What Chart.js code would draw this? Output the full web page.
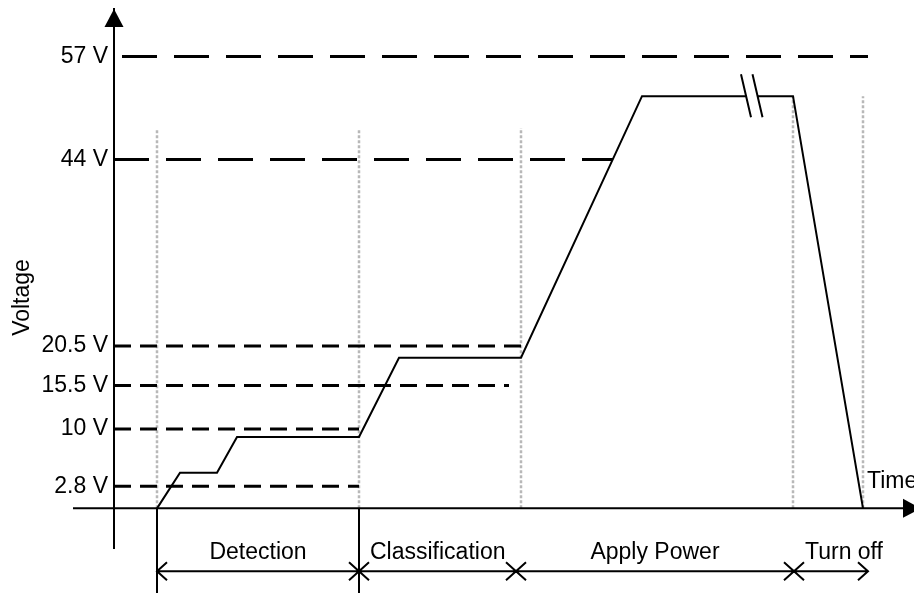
<!DOCTYPE html>
<html>
<head>
<meta charset="utf-8">
<script src="https://cdn.jsdelivr.net/npm/chart.js@4.4.0/dist/chart.umd.min.js"></script>
<style>
  html, body { margin: 0; padding: 0; background: #fff; }
  #wrap { width: 914px; height: 593px; }
</style>
</head>
<body>
<div id="wrap"><canvas id="canvas" width="914" height="593"></canvas></div>
<script>
// time in arbitrary units, voltage in V
const signalTimes = [43, 66, 103, 123, 245, 285, 407, 528, 679, 749];
const signalVolts = [0, 4.5, 4.5, 9, 9, 19, 19, 52, 52, 0];

// threshold levels (also the y tick labels)
const tickValues = [2.8, 10, 15.5, 20.5, 44, 57];
const thresholdStart = [0, 0, 0, 0, 0, 8];
const thresholdEnd = [245, 245, 395, 416, 499, 754];

// grey dotted guides
const guideTimes = [43, 245, 407, 679, 749];
const guideTops = [47.7, 47.7, 48, 52, 52];

const phaseNames = ['Detection', 'Classification', 'Apply Power', 'Turn off'];
const phaseEdges = [43, 245, 402, 680, 754];

const breakAt = 638;

document.addEventListener('DOMContentLoaded', () => {
  Chart.defaults.font.family = '"Liberation Sans", Arial, sans-serif';
  Chart.defaults.font.size = 23;
  Chart.defaults.color = '#000';

  const datasets = [];

  datasets.push({
    data: signalTimes.map((t, i) => ({ x: t, y: signalVolts[i] })),
    borderColor: '#000',
    borderWidth: 2,
    pointRadius: 0,
    order: 1,
  });

  tickValues.forEach((v, i) => {
    datasets.push({
      data: [{ x: thresholdStart[i], y: v }, { x: thresholdEnd[i], y: v }],
      borderColor: '#000',
      borderWidth: 3,
      borderDash: v > 40 ? [35, 17] : [17, 9],
      pointRadius: 0,
      order: 2,
    });
  });

  guideTimes.forEach((t, i) => {
    datasets.push({
      data: [{ x: t, y: 0 }, { x: t, y: guideTops[i] }],
      borderColor: '#b8b8b8',
      borderWidth: 2.5,
      borderDash: [3, 2],
      pointRadius: 0,
      order: 3,
    });
  });

  // axes arrows, phase arrows and labels
  const sketch = {
    id: 'sketch',
    afterDraw(chart) {
      const { ctx, chartArea } = chart;
      const xs = chart.scales.x;
      const ys = chart.scales.y;
      const x0 = chartArea.left;
      const y0 = ys.getPixelForValue(0);
      ctx.save();
      ctx.strokeStyle = '#000';
      ctx.fillStyle = '#000';
      ctx.lineWidth = 2;

      // time axis
      ctx.beginPath();
      ctx.moveTo(x0 - 41, y0);
      ctx.lineTo(chartArea.right - 10, y0);
      ctx.stroke();
      ctx.beginPath();
      ctx.moveTo(chartArea.right + 7, y0);
      ctx.lineTo(chartArea.right - 11, y0 - 9.5);
      ctx.lineTo(chartArea.right - 11, y0 + 9.5);
      ctx.closePath();
      ctx.fill();

      // voltage axis arrow
      ctx.beginPath();
      ctx.moveTo(x0, chartArea.top);
      ctx.lineTo(x0 - 9.5, chartArea.top + 18);
      ctx.lineTo(x0 + 9.5, chartArea.top + 18);
      ctx.closePath();
      ctx.fill();

      // break mark on the plateau
      const bx = xs.getPixelForValue(breakAt);
      const by = ys.getPixelForValue(52);
      ctx.fillStyle = '#fff';
      ctx.fillRect(bx - 5, by - 2, 10, 4);
      ctx.fillStyle = '#000';
      ctx.beginPath();
      ctx.moveTo(bx - 11, by - 22);
      ctx.lineTo(bx - 1, by + 21);
      ctx.moveTo(bx + 0.5, by - 22);
      ctx.lineTo(bx + 10.5, by + 21);
      ctx.stroke();

      // phase edges below the axis
      [0, 1].forEach((i) => {
        const px = xs.getPixelForValue(phaseEdges[i]);
        ctx.beginPath();
        ctx.moveTo(px, y0);
        ctx.lineTo(px, chart.height);
        ctx.stroke();
      });

      const ay = y0 + 63;
      const first = xs.getPixelForValue(phaseEdges[0]);
      const last = xs.getPixelForValue(phaseEdges[phaseEdges.length - 1]);
      ctx.beginPath();
      ctx.moveTo(first, ay);
      ctx.lineTo(last, ay);
      ctx.moveTo(first + 10, ay - 9);
      ctx.lineTo(first, ay);
      ctx.lineTo(first + 10, ay + 9);
      ctx.moveTo(last - 10, ay - 9);
      ctx.lineTo(last, ay);
      ctx.lineTo(last - 10, ay + 9);
      phaseEdges.slice(1, -1).forEach((t) => {
        const px = xs.getPixelForValue(t);
        ctx.moveTo(px - 10, ay - 9);
        ctx.lineTo(px + 10, ay + 9);
        ctx.moveTo(px - 10, ay + 9);
        ctx.lineTo(px + 10, ay - 9);
      });
      ctx.stroke();

      ctx.font = '23px "Liberation Sans", Arial, sans-serif';
      ctx.textAlign = 'center';
      ctx.textBaseline = 'alphabetic';
      phaseNames.forEach((name, i) => {
        const a = xs.getPixelForValue(phaseEdges[i]);
        const b = xs.getPixelForValue(phaseEdges[i + 1]);
        const w = ctx.measureText(name).width;
        const cx = Math.max((a + b) / 2, a + 11 + w / 2);
        ctx.fillText(name, cx, y0 + 51);
      });

      ctx.textAlign = 'left';
      ctx.fillText('Time', xs.getPixelForValue(guideTimes[guideTimes.length - 1]) + 4, y0 - 20);

      ctx.save();
      ctx.translate(23, (chartArea.top + chartArea.bottom) / 2 + 19);
      ctx.rotate(-Math.PI / 2);
      ctx.textAlign = 'center';
      ctx.textBaseline = 'middle';
      ctx.fillText('Voltage', 0, 0);
      ctx.restore();

      ctx.restore();
    },
  };

  const config = {
    type: 'line',
    data: { datasets: datasets },
    options: {
      responsive: false,
      animation: false,
      layout: { padding: { left: 10, top: 9, right: 0, bottom: 45 } },
      plugins: { legend: { display: false }, tooltip: { enabled: false } },
      scales: {
        x: { type: 'linear', min: 0, max: 800, display: false },
        y: {
          type: 'linear',
          min: -5,
          max: 63,
          afterBuildTicks: (scale) => {
            scale.ticks = tickValues.map((v) => ({ value: v }));
          },
          afterFit: (scale) => {
            scale.width = 104;
            scale.paddingTop = 0;
            scale.paddingBottom = 0;
          },
          ticks: {
            callback: (v) => v + ' V',
            color: '#000',
            font: { size: 23 },
            padding: 6,
            autoSkip: false,
          },
          grid: { display: false, drawTicks: false },
          border: { display: true, color: '#000', width: 2 },
        },
      },
    },
    plugins: [sketch],
  };

  const ctx = document.getElementById('canvas').getContext('2d');
  window.myLine = new Chart(ctx, config);
});
</script>
</body>
</html>
